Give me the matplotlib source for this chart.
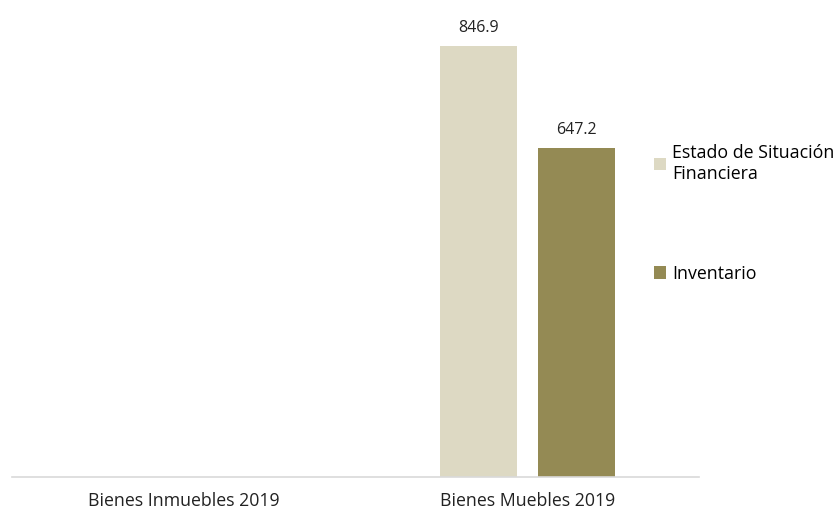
import numpy as np
import matplotlib
matplotlib.use('Agg')
from matplotlib import pyplot as plt

categories = ['Bienes Inmuebles 2019', 'Bienes Muebles 2019']
series_names = ['Estado de Situación\nFinanciera', 'Inventario']
estado_vals = [0.0, 846.9]
inventario_vals = [0.0, 647.2]

plt.rcParams['font.family'] = ['Open Sans', 'DejaVu Sans']

fig = plt.figure(figsize=(8.34, 5.12), dpi=100)
# axes in figure coords: x 12..699 px, baseline at y=477 px
ax = fig.add_axes([12 / 834, 35 / 512, 687 / 834, 458 / 512])

x = np.arange(len(categories))
width = 0.224
offset = 0.143
bars1 = ax.bar(x - offset, estado_vals, width, color='#ddd9c3', label=series_names[0])
bars2 = ax.bar(x + offset, inventario_vals, width, color='#948a54', label=series_names[1])

for bars in (bars1, bars2):
    for b in bars:
        h = b.get_height()
        if h > 0:
            ax.annotate(f'{h:.1f}', (b.get_x() + b.get_width() / 2, h),
                        xytext=(0, 7), textcoords='offset points',
                        ha='center', va='bottom', fontsize=11.5, color='#222222')

ax.set_xlim(-0.5, 1.5)
ax.set_ylim(0, 900)
ax.set_xticks(x)
ax.set_xticklabels(categories, fontsize=12.8, color='#222222')
ax.tick_params(axis='x', length=0, pad=11)
ax.set_yticks([])
for s in ['top', 'right', 'left']:
    ax.spines[s].set_visible(False)
ax.spines['bottom'].set_color('#d9d9d9')
ax.spines['bottom'].set_linewidth(1.2)

fig.legend(handles=[bars1, bars2], labels=series_names, loc='upper left',
           bbox_to_anchor=(638 / 834, 1 - 128 / 512), frameon=False, fontsize=12.8,
           handlelength=0.7, handleheight=0.7, handletextpad=0.3, labelspacing=4.6)

fig.savefig('out.png', dpi=100)
